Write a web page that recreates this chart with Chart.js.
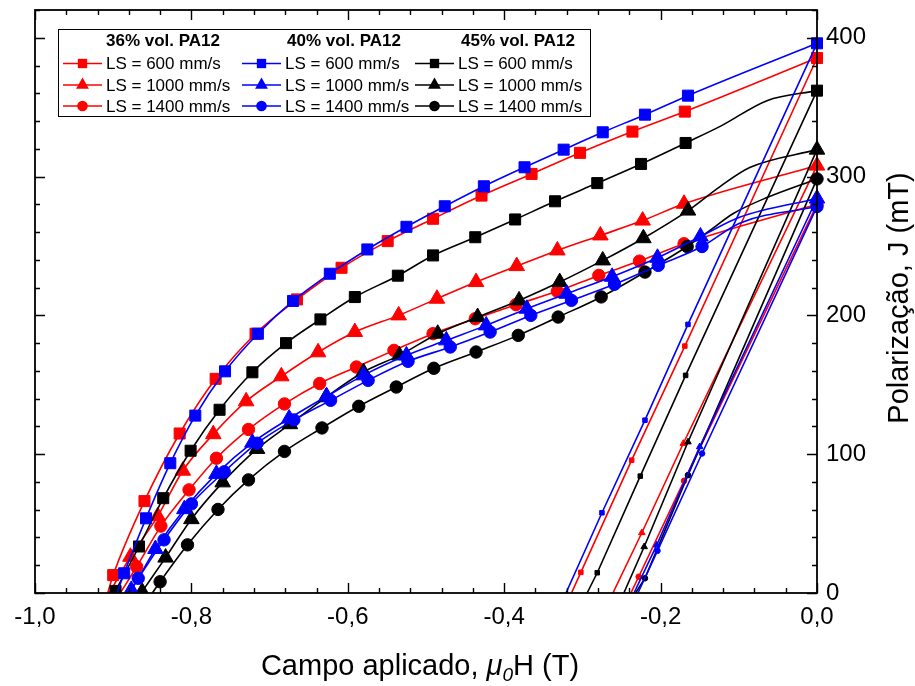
<!DOCTYPE html>
<html>
<head>
<meta charset="utf-8">
<title>Curvas de desmagnetização</title>
<script src="https://cdn.jsdelivr.net/npm/chart.js@4.4.1/dist/chart.umd.min.js"></script>
<style>
  html, body { margin: 0; padding: 0; background: #fff; }
  #wrap { width: 915px; height: 686px; }
</style>
</head>
<body>
<div id="wrap"><canvas id="chart" width="915" height="686"></canvas></div>
<script>
// Campo aplicado mu0H (T) vs polarização J (mT)
// h* = field, j* = polarization; *_path = unmarked points of the line only,
// *_ret = steep return branch (bottom, marked points, top)

// ---- axes ----
const xTickVals = [-1, -0.8, -0.6, -0.4, -0.2, 0];
const xTickText = ['-1,0', '-0,8', '-0,6', '-0,4', '-0,2', '0,0'];
const yTickVals = [0, 100, 200, 300, 400];
const yTickText = ['0', '100', '200', '300', '400'];

// ---- 36% vol. PA12 ----
const h36_600 = [-0.900, -0.860, -0.815, -0.769, -0.718, -0.665, -0.608, -0.549, -0.491, -0.429, -0.365, -0.303, -0.236, -0.169, 0];
const j36_600 = [12.9, 66.2, 114.9, 154.3, 186.8, 211.5, 234.3, 253.5, 269.6, 286.3, 301.9, 317.1, 332.4, 346.8, 385.4];
const h36_600_path = [-0.907];
const j36_600_path = [0];
const h36_600_ret = [-0.314, -0.302, -0.237, -0.169, 0];
const j36_600_ret = [0, 14.9, 95.7, 177.9, 385.4];

const h36_1000 = [-0.878, -0.843, -0.811, -0.772, -0.730, -0.685, -0.638, -0.591, -0.535, -0.486, -0.436, -0.384, -0.332, -0.277, -0.223, -0.170, 0];
const j36_1000 = [26.1, 55.4, 88.1, 114.4, 138.1, 156.1, 173.4, 188.0, 200.0, 212.0, 224.0, 235.5, 246.8, 257.6, 268.3, 280.4, 307.9];
const h36_1000_path = [-0.905];
const j36_1000_path = [0];
const h36_1000_ret = [-0.261, -0.224, -0.171, 0];
const j36_1000_ret = [0, 43.4, 107.7, 307.9];

const h36_1400 = [-0.870, -0.839, -0.803, -0.768, -0.727, -0.681, -0.636, -0.589, -0.541, -0.491, -0.437, -0.385, -0.332, -0.279, -0.227, -0.170, 0];
const j36_1400 = [18.9, 48.2, 74.3, 97.1, 117.8, 136.2, 150.9, 162.8, 174.8, 186.8, 197.6, 207.7, 217.3, 228.8, 239.1, 251.6, 280.0];
const h36_1400_path = [-0.891];
const j36_1400_path = [0];
const h36_1400_ret = [-0.238, -0.228, -0.170, 0];
const j36_1400_ret = [0, 11.7, 80.8, 280.0];

// ---- 40% vol. PA12 ----
const h40_600 = [-0.886, -0.858, -0.827, -0.795, -0.757, -0.715, -0.670, -0.623, -0.575, -0.525, -0.476, -0.426, -0.374, -0.324, -0.274, -0.220, -0.165, 0];
const j40_600 = [14.2, 53.8, 93.5, 127.8, 159.7, 186.8, 210.4, 230.0, 247.5, 263.8, 278.6, 293.0, 306.7, 319.4, 331.9, 344.6, 358.3, 396.0];
const h40_600_path = [-0.895];
const j40_600_path = [0];
const h40_600_ret = [-0.321, -0.275, -0.220, -0.165, 0];
const j40_600_ret = [0, 57.8, 124.5, 193.5, 396.0];

const h40_1000 = [-0.877, -0.846, -0.809, -0.768, -0.722, -0.675, -0.627, -0.580, -0.525, -0.474, -0.423, -0.371, -0.320, -0.262, -0.204, -0.149, 0];
const j40_1000 = [2.2, 31.7, 60.4, 85.8, 108.3, 125.7, 141.7, 156.8, 171.2, 182.0, 192.8, 204.8, 215.6, 227.8, 241.5, 256.8, 284.2];
const h40_1000_path = [-0.880, -0.099];
const j40_1000_path = [0, 270.7];
const h40_1000_ret = [-0.234, -0.205, -0.150, 0];
const j40_1000_ret = [0, 34.5, 105.3, 284.2];

const h40_1400 = [-0.868, -0.835, -0.800, -0.758, -0.716, -0.669, -0.622, -0.574, -0.523, -0.469, -0.418, -0.366, -0.314, -0.259, -0.203, -0.147, 0];
const j40_1400 = [10.6, 38.3, 64.2, 87.3, 107.9, 124.7, 138.8, 153.2, 166.9, 177.2, 188.0, 200.0, 210.8, 222.4, 236.0, 249.6, 278.4];
const h40_1400_path = [-0.881, -0.099];
const j40_1400_path = [0, 266.4];
const h40_1400_ret = [-0.229, -0.204, -0.147, 0];
const j40_1400_ret = [0, 30.4, 100.5, 278.4];

// ---- 45% vol. PA12 ----
const h45_600 = [-0.897, -0.867, -0.836, -0.801, -0.764, -0.722, -0.679, -0.635, -0.591, -0.536, -0.491, -0.437, -0.386, -0.335, -0.281, -0.225, -0.168, 0];
const j45_600 = [1.5, 33.5, 68.3, 102.5, 132.0, 159.0, 180.0, 197.1, 213.2, 228.6, 243.2, 256.3, 269.1, 282.2, 295.3, 309.1, 324.2, 361.9];
const h45_600_path = [-0.122, -0.064];
const j45_600_path = [336.7, 354.7];
const h45_600_ret = [-0.294, -0.281, -0.226, -0.168, 0];
const j45_600_ret = [0, 14.6, 84.2, 156.8, 361.9];

const h45_1000 = [-0.863, -0.833, -0.800, -0.760, -0.716, -0.674, -0.628, -0.580, -0.534, -0.485, -0.434, -0.381, -0.329, -0.274, -0.222, -0.165, 0];
const j45_1000 = [1.0, 25.5, 53.2, 79.7, 103.8, 121.6, 141.0, 159.2, 171.2, 186.8, 198.8, 210.8, 224.0, 239.6, 255.6, 275.5, 319.4];
const h45_1000_path = [-0.124, -0.086];
const j45_1000_path = [292.8, 306.5];
const h45_1000_ret = [-0.247, -0.221, -0.165, 0];
const j45_1000_ret = [0, 33.3, 108.8, 319.4];

const h45_1400 = [-0.840, -0.805, -0.766, -0.727, -0.681, -0.633, -0.586, -0.538, -0.490, -0.436, -0.382, -0.331, -0.276, -0.220, -0.166, 0];
const j45_1400 = [8.1, 34.7, 60.2, 81.5, 102.0, 118.9, 134.5, 148.4, 161.9, 173.6, 185.6, 198.8, 213.3, 231.2, 249.6, 298.3];
const h45_1400_path = [-0.850, -0.137, -0.107, -0.064];
const j45_1400_path = [0, 261.2, 273.4, 284.9];
const h45_1400_ret = [-0.232, -0.220, -0.165, 0];
const j45_1400_ret = [0, 10.6, 84.9, 298.3];

const groupTitles = ['36% vol. PA12', '40% vol. PA12', '45% vol. PA12'];
const speedLabels = ['LS = 600 mm/s', 'LS = 1000 mm/s', 'LS = 1400 mm/s'];

const RED = '#ff0000', BLUE = '#0000ff', BLACK = '#000000';
const FONT = '"Liberation Sans", Arial, Helvetica, sans-serif';

// group: legend column, row: legend row
const series = [
  { group: 0, row: 0, color: RED,   shape: 'rect',     h: h36_600,  j: j36_600,  hp: h36_600_path,  jp: j36_600_path,  hr: h36_600_ret,  jr: j36_600_ret },
  { group: 0, row: 1, color: RED,   shape: 'triangle', h: h36_1000, j: j36_1000, hp: h36_1000_path, jp: j36_1000_path, hr: h36_1000_ret, jr: j36_1000_ret },
  { group: 0, row: 2, color: RED,   shape: 'circle',   h: h36_1400, j: j36_1400, hp: h36_1400_path, jp: j36_1400_path, hr: h36_1400_ret, jr: j36_1400_ret },
  { group: 1, row: 0, color: BLUE,  shape: 'rect',     h: h40_600,  j: j40_600,  hp: h40_600_path,  jp: j40_600_path,  hr: h40_600_ret,  jr: j40_600_ret },
  { group: 1, row: 1, color: BLUE,  shape: 'triangle', h: h40_1000, j: j40_1000, hp: h40_1000_path, jp: j40_1000_path, hr: h40_1000_ret, jr: j40_1000_ret },
  { group: 1, row: 2, color: BLUE,  shape: 'circle',   h: h40_1400, j: j40_1400, hp: h40_1400_path, jp: j40_1400_path, hr: h40_1400_ret, jr: j40_1400_ret },
  { group: 2, row: 0, color: BLACK, shape: 'rect',     h: h45_600,  j: j45_600,  hp: h45_600_path,  jp: j45_600_path,  hr: h45_600_ret,  jr: j45_600_ret },
  { group: 2, row: 1, color: BLACK, shape: 'triangle', h: h45_1000, j: j45_1000, hp: h45_1000_path, jp: j45_1000_path, hr: h45_1000_ret, jr: j45_1000_ret },
  { group: 2, row: 2, color: BLACK, shape: 'circle',   h: h45_1400, j: j45_1400, hp: h45_1400_path, jp: j45_1400_path, hr: h45_1400_ret, jr: j45_1400_ret },
];

const BIG = { rect: 7.8, triangle: 9.0, circle: 6.2 };
const SMALL = { rect: 3.2, triangle: 3.8, circle: 2.8 };
const LEGEND_R = { rect: 6.6, triangle: 7.4, circle: 5.3 };
// blue drawn on top, then black, red underneath (lower order = on top)
const ORDER = [5, 1, 3];
const CLIP = { left: 0, top: 0, right: 10, bottom: 0 };

const pts = (hs, js) => hs.map((h, i) => ({ x: h, y: js[i] }));

const datasets = [];
series.forEach(s => {
  const o = ORDER[s.group];
  // smooth demagnetization curve
  datasets.push({
    data: pts(s.h, s.j).concat(pts(s.hp, s.jp)).sort((a, b) => a.x - b.x),
    borderColor: s.color, borderWidth: 1.6, pointRadius: 0,
    cubicInterpolationMode: 'monotone', order: o + 1, clip: CLIP
  });
  // straight return branch
  datasets.push({
    data: pts(s.hr, s.jr),
    borderColor: s.color, borderWidth: 1.6, pointRadius: 0,
    tension: 0, order: o + 1, clip: CLIP
  });
  // big symbols
  datasets.push({
    data: pts(s.h, s.j), showLine: false,
    pointStyle: s.shape, pointRadius: BIG[s.shape],
    pointBackgroundColor: s.color, pointBorderColor: s.color, pointBorderWidth: 1,
    order: o, clip: CLIP
  });
  // small symbols on the return branch
  datasets.push({
    data: pts(s.hr.slice(1, -1), s.jr.slice(1, -1)), showLine: false,
    pointStyle: s.shape, pointRadius: SMALL[s.shape],
    pointBackgroundColor: s.color, pointBorderColor: s.color, pointBorderWidth: 1,
    order: o, clip: CLIP
  });
});

function marker(ctx, shape, x, y, r, color) {
  ctx.fillStyle = color;
  ctx.beginPath();
  if (shape === 'rect') {
    const s = r * Math.SQRT1_2;
    ctx.rect(x - s, y - s, 2 * s, 2 * s);
  } else if (shape === 'triangle') {
    ctx.moveTo(x, y - r);
    ctx.lineTo(x + r * 0.866, y + r / 2);
    ctx.lineTo(x - r * 0.866, y + r / 2);
    ctx.closePath();
  } else {
    ctx.arc(x, y, r, 0, Math.PI * 2);
  }
  ctx.fill();
}

// frame, inward ticks, tick labels, axis titles and the legend box
const decorations = {
  id: 'decorations',
  afterDraw(chart) {
    const { ctx, chartArea: a, scales: { x, y } } = chart;
    ctx.save();
    ctx.strokeStyle = '#000';
    ctx.lineCap = 'butt';

    // ticks on all four sides, pointing inside
    ctx.lineWidth = 1.4;
    ctx.beginPath();
    for (let i = 0; i <= 25; i++) {
      const px = Math.round(x.getPixelForValue(-1 + i * 0.04)) + 0.5;
      const len = i % 5 === 0 ? 10 : 5;
      ctx.moveTo(px, a.bottom); ctx.lineTo(px, a.bottom - len);
      ctx.moveTo(px, a.top); ctx.lineTo(px, a.top + len);
    }
    for (let i = 0; i <= 21; i++) {
      const py = Math.round(y.getPixelForValue(i * 20)) + 0.5;
      const len = i % 5 === 0 ? 10 : 5;
      ctx.moveTo(a.left, py); ctx.lineTo(a.left + len, py);
      ctx.moveTo(a.right, py); ctx.lineTo(a.right - len, py);
    }
    ctx.stroke();

    ctx.lineWidth = 1.8;
    ctx.strokeRect(a.left, a.top, a.right - a.left, a.bottom - a.top);

    // tick labels
    ctx.fillStyle = '#000';
    ctx.font = '24px ' + FONT;
    ctx.textAlign = 'center';
    ctx.textBaseline = 'top';
    xTickVals.forEach((v, i) => ctx.fillText(xTickText[i], x.getPixelForValue(v), a.bottom + 12));
    ctx.textAlign = 'left';
    ctx.textBaseline = 'middle';
    yTickVals.forEach((v, i) => ctx.fillText(yTickText[i], a.right + 9, y.getPixelForValue(v)));

    // x title: Campo aplicado, mu0H (T)
    const parts = [
      { t: 'Campo aplicado, ', f: '29px ' + FONT, dy: 0 },
      { t: 'μ', f: 'italic 29px ' + FONT, dy: 0 },
      { t: '0', f: 'italic 19px ' + FONT, dy: 6 },
      { t: 'H (T)', f: '29px ' + FONT, dy: 0 }
    ];
    let total = 0;
    parts.forEach(p => { ctx.font = p.f; p.w = ctx.measureText(p.t).width; total += p.w; });
    let cx = 420 - total / 2;
    ctx.textAlign = 'left';
    ctx.textBaseline = 'alphabetic';
    parts.forEach(p => { ctx.font = p.f; ctx.fillText(p.t, cx, 675 + p.dy); cx += p.w; });

    // y title
    ctx.save();
    ctx.translate(908, 298);
    ctx.rotate(-Math.PI / 2);
    ctx.font = '29px ' + FONT;
    ctx.textAlign = 'center';
    ctx.textBaseline = 'alphabetic';
    ctx.fillText('Polarização, J (mT)', 0, 0);
    ctx.restore();

    // legend
    const box = { l: 58.5, t: 29.5, r: 590.5, b: 116.5 };
    ctx.fillStyle = '#fff';
    ctx.fillRect(box.l, box.t, box.r - box.l, box.b - box.t);
    ctx.lineWidth = 1;
    ctx.strokeStyle = '#000';
    ctx.strokeRect(box.l, box.t, box.r - box.l, box.b - box.t);

    const colX = [63, 242, 415];
    const headX = [163, 344, 518];
    const rowY = [63.5, 85, 106];
    ctx.fillStyle = '#000';
    ctx.font = 'bold 17px ' + FONT;
    ctx.textAlign = 'center';
    ctx.textBaseline = 'middle';
    groupTitles.forEach((t, i) => ctx.fillText(t, headX[i], 41));

    ctx.font = '17px ' + FONT;
    ctx.textAlign = 'left';
    series.forEach(s => {
      const lx = colX[s.group], ly = rowY[s.row];
      ctx.strokeStyle = s.color;
      ctx.lineWidth = 1.6;
      ctx.beginPath();
      ctx.moveTo(lx, ly); ctx.lineTo(lx + 39, ly);
      ctx.stroke();
      marker(ctx, s.shape, lx + 19.5, ly, LEGEND_R[s.shape], s.color);
      ctx.fillStyle = '#000';
      ctx.fillText(speedLabels[s.row], lx + 43, ly + 1);
    });
    ctx.restore();
  }
};

new Chart(document.getElementById('chart'), {
  type: 'line',
  data: { datasets },
  options: {
    responsive: false,
    animation: false,
    devicePixelRatio: 1,
    events: [],
    layout: { padding: { left: 35, right: 98, top: 10, bottom: 93 } },
    scales: {
      x: { type: 'linear', min: -1, max: 0, display: false },
      y: { type: 'linear', min: 0, max: 420, display: false }
    },
    plugins: { legend: { display: false }, tooltip: { enabled: false } }
  },
  plugins: [decorations]
});
</script>
</body>
</html>
